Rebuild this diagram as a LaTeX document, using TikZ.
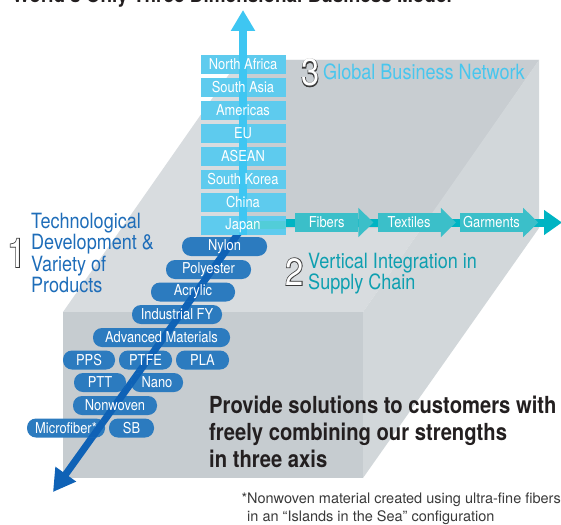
\documentclass[tikz,border=0pt]{standalone}
\usepackage{fontspec}
\setmainfont{TeX Gyre Heros}[FakeStretch=0.86]
\newfontfamily\notefont{TeX Gyre Heros}
\newfontfamily\numfont{TeX Gyre Heros}[FakeStretch=0.86]
\newfontfamily\numrim{TeX Gyre Heros}[FakeStretch=0.86, FakeBold=4]
\usetikzlibrary{positioning, arrows.meta}
\definecolor{SkyA}{HTML}{3EC6F2}
\definecolor{SkyB}{HTML}{5ECBEE}
\definecolor{SkyT}{HTML}{48C6EE}
\definecolor{TealA}{HTML}{00B4C3}
\definecolor{TealB}{HTML}{3BBFC9}
\definecolor{TealL}{HTML}{52CDD8}
\definecolor{TealT}{HTML}{0E9FB0}
\definecolor{BlueA}{HTML}{0F62B6}
\definecolor{BlueB}{HTML}{2C7BBF}
\definecolor{BlueT}{HTML}{1E6DB9}
\definecolor{FrontG}{HTML}{C6CCD0}
\definecolor{TopG}{HTML}{D8DCDF}
\definecolor{SideG}{HTML}{D2D7DA}
\definecolor{BackG}{HTML}{C8CDD1}
\definecolor{InkG}{HTML}{231F20}
\definecolor{RimG}{HTML}{3A3A3A}
\newcommand{\lbl}{\fontsize{15}{15}\selectfont}
\newcommand{\axtxt}{\fontsize{21}{21.3}\selectfont}
\newcommand{\outlinedigit}[2]{\fontsize{#1}{#1}\selectfont\rlap{\color{RimG}\numrim #2}{\color{white}\numfont #2}}
\tikzset{
  ctry/.style={fill=SkyB, text=white, font=\lbl, minimum width=85pt, minimum height=18.5pt, inner sep=0pt,
    path picture={\fill[SkyA] ([xshift=-3.75pt]path picture bounding box.north) rectangle ([xshift=3.75pt]path picture bounding box.south);}},
  hub/.style={path picture={
    \fill[TealL] ([xshift=3.75pt,yshift=4pt]path picture bounding box.center) rectangle ([yshift=-4pt]path picture bounding box.east);
    \fill[SkyA] ([xshift=-3.75pt]path picture bounding box.north) rectangle ([xshift=3.75pt]path picture bounding box.south);}},
  pill/.style={fill=BlueB, text=white, font=\lbl, rounded corners=9pt, minimum height=19pt, inner sep=0pt,
    path picture={\draw[axis=7pt, BlueA, sharp corners] (dfoot) -- (dtip);}},
  chain/.style={fill=TealB, text=white, font=\lbl, minimum width=63pt, minimum height=19pt, inner sep=0pt},
  txt/.style={anchor=north west, inner sep=0pt, align=left},
  axis/.style={line width=#1}
}
\begin{document}
\begin{tikzpicture}[x=1pt, y=-1pt, node distance=4.1pt]
  \useasboundingbox (0,0) rectangle (561,524);
  % box
  \fill[TopG] (63,312) -- (363,312) -- (539,60) -- (239,60) -- cycle;
  \fill[BackG] (239,60) -- (539,60) -- (423,228) -- (239,228) -- cycle;
  \fill[SideG] (363,312) -- (539,60) -- (539,228) -- (363,478) -- cycle;
  \fill[FrontG] (63,312) rectangle (363,478);

  \coordinate (orig) at (243,222.5);
  \coordinate (vtip) at (243,10);
  \coordinate (htip) at (562,222.5);
  \coordinate (dfoot) at (240,231);
  \coordinate (dtip) at (53,492);

  % texts
  \node[anchor=base west, inner sep=0pt, font=\fontsize{22}{22}\selectfont\bfseries, text=InkG] (title) at (12,3) {World's Only Three Dimensional Business Model};
  \node[txt, font=\axtxt, text=BlueT] (tech) at (31,212.9) {Technological\\Development \&\\Variety of\\Products};
  \node[anchor=base west, inner sep=0pt] (one) at (7,267) {\outlinedigit{40}{1}};
  \node[txt, font=\fontsize{21}{20}\selectfont, text=TealT] (vert) at (308,252.9) {Vertical Integration in\\Supply Chain};
  \node[anchor=base west, inner sep=0pt] (two) at (285,285) {\outlinedigit{38}{2}};
  \node[anchor=base west, inner sep=0pt, font=\axtxt, text=SkyT] (glob) at (323,80) {Global Business Network};
  \node[anchor=base west, inner sep=0pt] (three) at (301,86) {\outlinedigit{38}{3}};
  \node[txt, font=\fontsize{23.5}{27}\selectfont\bfseries, text=InkG] (msg) at (209,396.1) {Provide solutions to customers with\\freely combining our strengths\\in three axis};
  \node[txt, font=\notefont\fontsize{14.5}{18}\selectfont, text=RimG] (note) at (247,492.6) {\llap{*}Nonwoven material created using ultra-fine fibers\\in an “Islands in the Sea” configuration};

  % supply chain axis
  \draw[axis=8pt, TealA, -{Triangle[width=24pt,length=18pt]}] (orig) -- (htip);
  \node[chain, anchor=west] (fibers) at (295,222.5) {Fibers};
  \node[chain, right=19pt of fibers] (textiles) {Textiles};
  \node[chain, right=19pt of textiles] (garments) {Garments};
  \fill[TealB] ([yshift=5pt]fibers.north east) -- ([xshift=15pt]fibers.east) -- ([yshift=-5pt]fibers.south east) -- cycle;
  \fill[TealB] ([yshift=5pt]textiles.north east) -- ([xshift=15pt]textiles.east) -- ([yshift=-5pt]textiles.south east) -- cycle;
  \fill[TealB] ([yshift=5pt]garments.north east) -- ([xshift=15pt]garments.east) -- ([yshift=-5pt]garments.south east) -- cycle;

  % products
  \draw[axis=7pt, BlueA, -{Triangle[width=24pt,length=22pt]}] (dfoot) -- (dtip);
  \node[pill, minimum width=85pt] (nylon) at (224.5,246.5) {Nylon};
  \node[pill, minimum width=85pt] (poly) at (208.5,269.5) {Polyester};
  \node[pill, minimum width=84pt] (acryl) at (193,292) {Acrylic};
  \node[pill, minimum width=90pt] (indfy) at (177,314.5) {Industrial FY};
  \node[pill, minimum width=137pt] (advmat) at (161.5,337.5) {Advanced Materials};
  \node[pill, minimum width=52pt] (pps) at (89,360) {PPS};
  \node[pill, minimum width=53pt] (ptfe) at (145.5,360) {PTFE};
  \node[pill, minimum width=53pt] (pla) at (202.5,360) {PLA};
  \node[pill, minimum width=52pt] (ptt) at (100,382.5) {PTT};
  \node[pill, minimum width=52pt] (nano) at (157,382.5) {Nano};
  \node[pill, minimum width=84pt] (nonwov) at (115,405.5) {Nonwoven};
  \node[pill, minimum width=78pt] (micro) at (66,428) {Microfiber*};
  \node[pill, minimum width=45pt] (sb) at (131.5,428) {SB};

  % regions
  \draw[axis=7.5pt, SkyA, -{Triangle[width=23pt,length=21pt]}] (orig) -- (vtip);
  \node[ctry, anchor=north] (nafr) at (243,55) {North Africa};
  \node[ctry, below=of nafr] (sasia) {South Asia};
  \node[ctry, below=of sasia] (amer) {Americas};
  \node[ctry, below=of amer] (eu) {EU};
  \node[ctry, below=of eu] (asean) {ASEAN};
  \node[ctry, below=of asean] (skor) {South Korea};
  \node[ctry, below=of skor] (china) {China};
  \node[ctry, hub, below=of china] (japan) {Japan};
\end{tikzpicture}
\end{document}
